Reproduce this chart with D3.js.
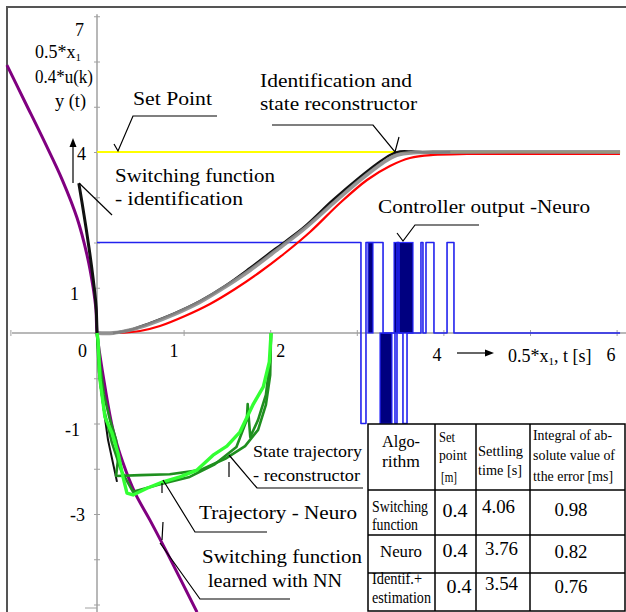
<!DOCTYPE html>
<html>
<head>
<meta charset="utf-8">
<script src="https://cdn.jsdelivr.net/npm/d3@7"></script>
<style>
  body { margin: 0; background: #fff; }
</style>
</head>
<body>
<div id="chart"></div>
<script>
// values: t [s] (or 0.5*x1) on x, scaled output on y
const setPoint = [[0, 4], [6.04, 4]]

const outputGray = [[0, 0], [0.185, 0], [0.38, 0.066], [0.61, 0.2], [0.9, 0.42], [1.19, 0.685], [1.48, 1.02],
  [1.77, 1.39], [2.06, 1.81], [2.38, 2.28], [2.73, 2.87], [3.04, 3.38], [3.3, 3.76], [3.46, 3.93],
  [3.7, 3.99], [3.88, 4.0], [6.04, 4.0]]

const outputBlack = [[0.185, 0], [0.381, 0.066], [0.612, 0.221], [0.901, 0.442], [1.19, 0.707], [1.478, 1.039],
  [1.767, 1.436], [2.055, 1.856], [2.379, 2.32], [2.725, 2.939], [3.037, 3.448], [3.245, 3.757],
  [3.383, 3.934], [3.499, 4.011], [3.637, 4.011], [3.845, 3.989], [4.08, 4.0]]

const outputRed = [[0.266, 0], [0.497, 0.044], [0.727, 0.155], [1.016, 0.376], [1.305, 0.641], [1.594, 0.972],
  [1.882, 1.348], [2.171, 1.768], [2.46, 2.232], [2.806, 2.873], [3.118, 3.381], [3.383, 3.691],
  [3.614, 3.867], [3.88, 3.934], [4.273, 3.956], [6.039, 3.956]]

// switching function learned with NN (phase plane)
const switchNN = [[-1.04, 5.92], [-0.83, 5.1], [-0.6, 4.2], [-0.4, 3.38], [-0.23, 2.54], [-0.115, 1.72],
  [-0.046, 1.02], [-0.012, 0.51], [0, 0], [0.092, -1.19], [0.185, -2.14], [0.3, -2.87], [0.44, -3.54],
  [0.61, -4.13], [0.81, -4.86], [1.155, -6.17]]

// switching function - identification
const switchIdent = [[-0.21, 3.31], [-0.15, 2.61], [-0.092, 1.88], [-0.046, 1.22], [-0.012, 0.62], [0, 0]]

const trajNeuro = [[0, 0], [0.012, -0.15], [0.035, -1.04], [0.092, -1.86], [0.173, -2.21], [0.242, -2.65],
  [0.3, -3.18], [0.346, -3.54], [0.416, -3.58], [0.577, -3.43], [0.762, -3.29], [0.958, -3.18],
  [1.155, -3.03], [1.34, -2.7], [1.5, -2.5], [1.65, -2.19], [1.8, -1.59], [1.92, -1.19], [1.99, -0.64], [2.01, 0]]

const trajRecon = [[0, 0], [0.035, -0.71], [0.081, -1.37], [0.15, -1.92], [0.22, -2.36], [0.242, -2.81],
  [0.22, -3.16], [0.5, -3.14], [0.84, -3.12], [1.19, -3.03], [1.48, -2.78], [1.71, -2.5], [1.86, -2.14],
  [1.95, -1.59], [2.0, -0.93], [2.01, 0]]

const trajRecon2 = [[0, 0], [0.023, -0.86], [0.081, -1.7], [0.173, -2.43], [0.277, -3.03], [0.416, -3.51],
  [0.73, -3.34], [1.07, -3.18], [1.36, -2.9], [1.61, -2.52], [1.73, -1.92], [1.74, -1.57], [1.77, -2.3],
  [1.86, -1.92], [1.95, -1.37], [2.0, -0.6], [2.01, 0]]

const trajIdent = [[0, 0], [0.035, -1.1], [0.127, -2.36], [0.231, -3.29]]

// controller output -Neuro, 0.4*u(k): switching instants and levels
const uTimes = [0, 3.048, 3.106, 3.303, 3.441, 3.464, 3.487, 3.533, 3.58, 3.741, 3.764, 3.799, 3.891,
  4.042, 4.122, 6.04]
const uValues = [2, -2, 2, 0, -2, 2, 0, -2, 0, 2, 0, 2, 0, 2, 0, 0]
// fast chattering bursts of u(k): [from, to, level]
const uBursts = [[3.129, 3.187, 2], [3.268, 3.406, -2], [3.43, 3.649, 2]]

const xTicks = [-1, 0, 1, 2, 3, 4, 5, 6]
const xTickLabels = { 0: '0', 1: '1', 2: '2', 4: '4', 6: '6' }
const yTicks = [-6, -5, -4, -3, -2, -1, 0, 1, 2, 3, 4, 5, 6, 7]
const yTickLabels = { 7: '7', 4: '4', 1: '1', '-2': '-1', '-4': '-3' }

const tableHead = [['Algo-', 'rithm'], ['Set', 'point', '[m]'], ['Settling', 'time [s]'],
  ['Integral of ab-', 'solute value of', 'tthe error [ms]']]
const tableAlgo = [['Switching', 'function'], ['Neuro'], ['Identif.+', 'estimation']]
const tableSetPoint = ['0.4', '0.4', '0.4']
const tableSettling = ['4.06', '3.76', '3.54']
const tableIntegral = ['0.98', '0.82', '0.76']

const width = 626
const height = 612
const font = "'Liberation Serif', serif"

const svg = d3.select('#chart').append('svg')
  .attr('width', width)
  .attr('height', height)

const x = d3.scaleLinear().domain([0, 6]).range([97, 616.6])
const y = d3.scaleLinear().domain([0, 4]).range([333, 152])

//Frame
svg.append('path').attr('d', 'M7,612 L7,7 L626,7')
  .attr('fill', 'none').attr('stroke', '#555').attr('stroke-width', 2)

//Axes
const xAxis = d3.axisBottom(x).tickValues(xTicks).tickSize(3).tickSizeOuter(0)
  .tickPadding(8).tickFormat(d => xTickLabels[d] || '')
const gx = svg.append('g').attr('transform', 'translate(0,' + y(0) + ')').call(xAxis)
gx.select('.domain').attr('d', 'M12,0H626').attr('stroke', '#a0a0a0').attr('stroke-width', 1.5)
gx.selectAll('.tick line').attr('y1', -3).attr('y2', 3).attr('stroke', '#a0a0a0')
const xLabelDx = { 0: -15, 1: -10, 2: 10, 4: -7, 6: -6 }
gx.selectAll('.tick text')
  .attr('font-size', 18).attr('fill', '#000')
  .attr('dx', d => xLabelDx[d] || 0)
  .attr('dy', d => d >= 4 ? '0.95em' : '0.7em')

const yAxis = d3.axisLeft(y).tickValues(yTicks).tickSize(3).tickSizeOuter(0)
  .tickPadding(7).tickFormat(d => yTickLabels[d] || '')
const gy = svg.append('g').attr('transform', 'translate(' + x(0) + ',0)').call(yAxis)
gy.select('.domain').attr('d', 'M0,' + (y(7) - 2) + 'V612').attr('stroke', '#a0a0a0').attr('stroke-width', 1.5)
gy.selectAll('.tick line').attr('x1', -3).attr('x2', 3).attr('stroke', '#a0a0a0')
const yLabelDy = { 7: 13, 4: 1, 1: 6, '-2': 6, '-4': 0 }
const yLabelDx = { 7: -3, 4: -1, 1: -8, '-2': -7, '-4': -2 }
gy.selectAll('.tick text')
  .attr('font-size', 18).attr('fill', '#000')
  .attr('dx', d => yLabelDx[d] || 0)
  .attr('dy', d => (yLabelDy[d] || 0) + 6)
svg.append('line').attr('x1', 85).attr('x2', 97).attr('y1', 608).attr('y2', 608)
  .attr('stroke', '#a0a0a0').attr('stroke-width', 1)

//Lines
const smooth = d3.line().x(d => x(d[0])).y(d => y(d[1])).curve(d3.curveCatmullRom)
const straight = d3.line().x(d => x(d[0])).y(d => y(d[1]))

function draw(data, gen, color, w, op) {
  svg.append('path').datum(data).attr('d', gen)
    .attr('fill', 'none').attr('stroke', color).attr('stroke-width', w)
    .attr('stroke-linejoin', 'round').attr('opacity', op || 1)
}

draw(setPoint, straight, '#ffff00', 2.2)

// controller output
svg.selectAll('.burst').data(uBursts).enter().append('rect')
  .attr('class', 'burst')
  .attr('x', d => x(d[0]))
  .attr('width', d => x(d[1]) - x(d[0]))
  .attr('y', d => Math.min(y(0), y(d[2])))
  .attr('height', d => Math.abs(y(d[2]) - y(0)))
  .attr('fill', '#000080')
  .attr('stroke', '#2a2aff').attr('stroke-width', 1.2)
const uData = uTimes.map((t, i) => [t, uValues[i]])
const step = d3.line().x(d => x(d[0])).y(d => y(d[1])).curve(d3.curveStepAfter)
draw(uData, step, '#2222ee', 1.6)

draw(outputRed, smooth, '#ff0000', 2.2)
draw(outputBlack, smooth, '#111', 2.4)
draw(outputGray, smooth, '#8c8c8c', 3.8, 0.9)

draw(switchNN, smooth, '#800080', 3)
draw(switchIdent, smooth, '#111', 3)

draw(trajIdent, straight, '#111', 2)
draw(trajRecon, straight, '#1f8f1f', 2.6)
draw(trajRecon2, straight, '#1f8f1f', 2.6)
draw(trajNeuro, straight, '#33ff33', 3.4)

//Annotations
function label(txt, lx, ly, w, size) {
  svg.append('text').attr('x', lx).attr('y', ly).attr('font-size', size)
    .attr('textLength', w).attr('lengthAdjust', 'spacingAndGlyphs').text(txt)
}
function leader(d) {
  svg.append('path').attr('d', d).attr('fill', 'none').attr('stroke', '#000').attr('stroke-width', 1.2)
}

// y-axis title
const t1 = svg.append('text').attr('x', 35).attr('y', 58).attr('font-size', 18)
t1.append('tspan').text('0.5*x')
t1.append('tspan').attr('font-size', 11).attr('dy', 3).text('1')
label('0.4*u(k)', 35, 83, 58, 18)
label('y (t)', 55, 107, 31, 18)
leader('M73,183 L73,143')
svg.append('path').attr('d', 'M73,138 L69.5,147 L76.5,147 Z').attr('fill', '#000')

label('Set Point', 133, 105, 79, 19)
leader('M114,144 L118,151 L133,116 L217,116')

label('Switching function', 115, 182, 160, 19)
label('- identification', 115, 205, 128, 19)
leader('M79,183 L112,215')

label('Identification and', 260, 87, 152, 18)
label('state reconstructor', 260, 110, 157, 18)
leader('M272,125 L373,125 L395,152 L399,137')

label('Controller output -Neuro', 378, 213, 212, 18)
leader('M479,225 L415,225 L403,241 L397,233')

label('State trajectory', 253, 457, 109, 16)
label('- reconstructor', 253, 481, 107, 16)
leader('M363,488 L257,488 L229,455 M229,462 L229,477')

label('Trajectory - Neuro', 199, 519, 158, 19)
leader('M267,532 L195,532 L163,480 M162,483 L162,493')

label('Switching function', 202, 563, 160, 19)
label('learned with NN', 208, 587, 134, 19)
leader('M290,599 L200,599 L160,543 M163,522 L162,540')

// x-axis title
leader('M457,353 L488,353')
svg.append('path').attr('d', 'M494,353 L485,349.5 L485,356.5 Z').attr('fill', '#000')
const t2 = svg.append('text').attr('x', 508).attr('y', 362).attr('font-size', 18)
t2.append('tspan').text('0.5*x')
t2.append('tspan').attr('font-size', 11).attr('dy', 3).text('1')
t2.append('tspan').attr('dy', -3).text(', t [s]')

//Table
const colX = [368, 435, 476, 530, 625]
const rowY = [424, 490, 535, 573, 611]
const tbl = svg.append('g')
tbl.append('rect').attr('x', colX[0]).attr('y', rowY[0])
  .attr('width', colX[4] - colX[0]).attr('height', rowY[4] - rowY[0])
  .attr('fill', '#fff').attr('stroke', '#000').attr('stroke-width', 1.5)
colX.slice(1, 4).forEach(cx => tbl.append('line').attr('x1', cx).attr('x2', cx)
  .attr('y1', rowY[0]).attr('y2', rowY[4]).attr('stroke', '#000').attr('stroke-width', 1.5))
rowY.slice(1, 4).forEach(ry => tbl.append('line').attr('y1', ry).attr('y2', ry)
  .attr('x1', colX[0]).attr('x2', colX[4]).attr('stroke', '#000').attr('stroke-width', 1.5))

function cell(txt, cx, cy, w, size, anchor) {
  const el = tbl.append('text').attr('x', cx).attr('y', cy).attr('font-size', size)
    .attr('text-anchor', anchor || 'start').text(txt)
  if (w) el.attr('textLength', w).attr('lengthAdjust', 'spacingAndGlyphs')
}

// header
cell(tableHead[0][0], 382, 447, 38, 17)
cell(tableHead[0][1], 382, 467, 38, 17)
cell(tableHead[1][0], 439, 442, 16, 15)
cell(tableHead[1][1], 439, 460, 28, 15)
cell(tableHead[1][2], 441, 482, 16, 15)
cell(tableHead[2][0], 478, 456, 45, 15)
cell(tableHead[2][1], 478, 475, 44, 15)
cell(tableHead[3][0], 533, 440, 79, 15)
cell(tableHead[3][1], 533, 460, 82, 15)
cell(tableHead[3][2], 533, 481, 80, 15)

// body
const algoY = [[512, 530], [557], [584, 603]]
const algoW = [[56, 46], [42], [50, 59]]
tableAlgo.forEach((lines, i) => lines.forEach((s, j) => {
  if (lines.length === 1) cell(s, 401, algoY[i][j], algoW[i][j], 17, 'middle')
  else cell(s, 372, algoY[i][j], algoW[i][j], 16)
}))
const valY = [517, 557, 593]
const settleY = [513, 555, 590]
tableSetPoint.forEach((s, i) => cell(s, i === 2 ? 459 : 455, valY[i], 25, 19, 'middle'))
tableSettling.forEach((s, i) => cell(s, i === 0 ? 482 : 485, settleY[i], 33, 19))
tableIntegral.forEach((s, i) => cell(s, 571, settleY[i] + 3, 33, 19, 'middle'))

// one serif face for every text
svg.selectAll('text').style('font-family', font)
</script>
</body>
</html>
